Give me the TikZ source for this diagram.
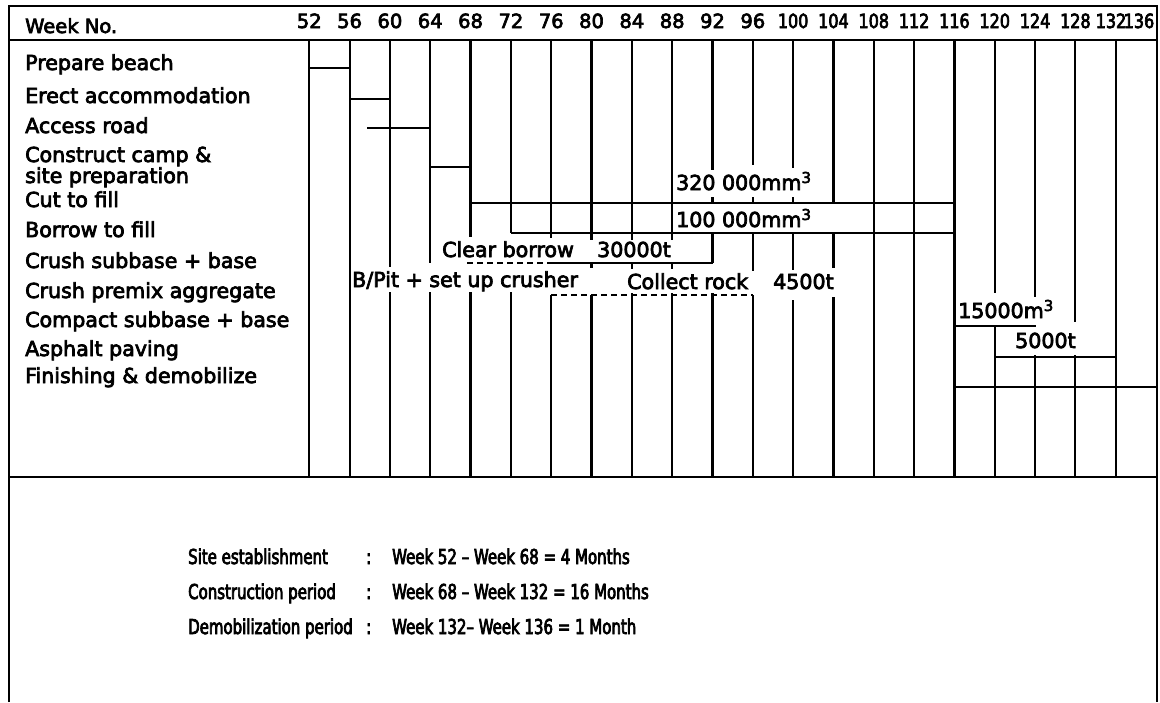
\documentclass[tikz,border=0pt]{standalone}
\usepackage{fontspec}
\setmainfont[FakeBold=3.5]{DejaVu Sans}
\newfontfamily\condf[FakeStretch=0.73,FakeBold=3.5]{DejaVu Sans}
\newfontfamily\numf[FakeStretch=0.82,FakeBold=3.5]{DejaVu Sans}
\begin{document}
\begin{tikzpicture}[x=1pt,y=-1pt,
  declare function={wx(\w)=309.3+(\w-52)*10.08;},
  frame/.style={line width=2.6pt},
  grid/.style={line width=2.2pt},
  bar/.style={line width=2.2pt},
  dbar/.style={line width=2pt, dash pattern=on 6pt off 4pt},
  task/.style={anchor=base west, inner sep=0pt, font=\fontsize{20.6}{24}\selectfont},
  lab/.style={anchor=base west, inner sep=0pt, font=\fontsize{20.6}{24}\selectfont},
  wk/.style={anchor=base, inner sep=0pt, font=\fontsize{19.5}{22}\selectfont},
  wkn/.style={anchor=base, inner sep=0pt, font=\numf\fontsize{19.5}{22}\selectfont},
  sumt/.style={anchor=base west, inner sep=0pt, font=\condf\fontsize{20.5}{24}\selectfont}]
\useasboundingbox (0,0) rectangle (1160,702);
% frame
\draw[frame] (9,702) -- (9,6) -- (1157,6) -- (1157,702);
\draw[grid] (9,40) -- (1157,40);
\draw[grid] (9,477) -- (1157,477);
% vertical week lines
\foreach \w/\a/\b in {52/40/477, 56/40/477,
  60/40/267, 60/292/477,
  64/40/263, 64/292/477,
  68/40/237, 68/292/477,
  72/40/233, 72/292/477,
  76/40/238, 76/295/477,
  80/40/240, 80/262/268, 80/295/477,
  84/40/240, 84/263/269, 84/293/477,
  88/40/240, 88/263/269, 88/293/477,
  92/40/170, 92/197/203, 92/233/263, 92/293/477,
  96/40/165, 96/197/203, 96/233/271, 96/295/477,
  100/40/168, 100/197/203, 100/233/270, 100/300/477,
  104/40/203, 104/233/268, 104/297/477,
  108/40/477, 112/40/477, 116/40/477,
  120/40/293, 120/326/477,
  124/40/297, 124/355/477,
  128/40/322, 128/355/477,
  132/40/477}
  \draw[grid] ({wx(\w)},\a) -- ({wx(\w)},\b);
% week numbers
\node[wk, anchor=base west] (hdr) at (25,33) {Week No.};
\foreach \w in {52,56,...,96}
  \node[wk] (wk\w) at ({wx(\w)},28) {\w};
\foreach \w in {100,104,...,128}
  \node[wkn] (wk\w) at ({wx(\w)},28) {\w};
\node[wkn] (wk132) at (1111,28) {132};
\node[wkn] (wk136) at (1139,28) {136};
% task names
\node[task] (t1) at (25,70) {Prepare beach};
\node[task] (t2) at (25,103) {Erect accommodation};
\node[task] (t3) at (25,133) {Access road};
\node[task] (t4a) at (25,162) {Construct camp \&};
\node[task] (t4b) at (25,183) {site preparation};
\node[task] (t5) at (25,207) {Cut to fill};
\node[task] (t6) at (25,237) {Borrow to fill};
\node[task] (t7) at (25,268) {Crush subbase + base};
\node[task] (t8) at (25,298) {Crush premix aggregate};
\node[task] (t9) at (25,327) {Compact subbase + base};
\node[task] (t10) at (25,356) {Asphalt paving};
\node[task] (t11) at (25,383) {Finishing \& demobilize};
% bars
\draw[bar] ({wx(52)},68) -- ({wx(56)},68);
\draw[bar] ({wx(56)},99) -- ({wx(60)},99);
\draw[bar] (367,128) -- ({wx(64)},128);
\draw[bar] ({wx(64)},167) -- ({wx(68)},167);
\draw[bar] ({wx(68)},203) -- ({wx(116)},203);
\draw[bar] ({wx(72)},233) -- ({wx(116)},233);
\draw[dbar] (467,263) -- ({wx(76)},263);
\draw[bar] ({wx(76)},263) -- ({wx(92)},263);
\draw[dbar] ({wx(76)},295) -- ({wx(96)},295);
\draw[bar] ({wx(116)},326) -- (1036,326);
\draw[bar] ({wx(120)},357) -- ({wx(132)},357);
\draw[bar] ({wx(116)},387) -- ({wx(136)},387);
% quantity labels
\node[lab] (q1) at (676,190) {320 000mm\raisebox{7pt}{\fontsize{15}{15}\selectfont 3}};
\node[lab] (q2) at (676,227) {100 000mm\raisebox{7pt}{\fontsize{15}{15}\selectfont 3}};
\node[lab] (q3) at (442,257) {Clear borrow};
\node[lab] (q4) at (597,257) {30000t};
\node[lab] (q5) at (352,287) {B/Pit + set up crusher};
\node[lab] (q6) at (627,289) {Collect rock};
\node[lab] (q7) at (773,289) {4500t};
\node[lab] (q8) at (958,318) {15000m\raisebox{7pt}{\fontsize{15}{15}\selectfont 3}};
\node[lab] (q9) at (1015,348) {5000t};
% summary
\node[sumt] (s1) at (188,564) {Site establishment};
\node[sumt] (s2) at (188,599) {Construction period};
\node[sumt] (s3) at (188,634) {Demobilization period};
\node[sumt] (c1) at (366,564) {:};
\node[sumt] (c2) at (366,599) {:};
\node[sumt] (c3) at (366,634) {:};
\node[sumt] (v1) at (392,564) {Week 52 – Week 68 = 4 Months};
\node[sumt] (v2) at (392,599) {Week 68 – Week 132 = 16 Months};
\node[sumt] (v3) at (392,634) {Week 132– Week 136 = 1 Month};
\end{tikzpicture}
\end{document}
